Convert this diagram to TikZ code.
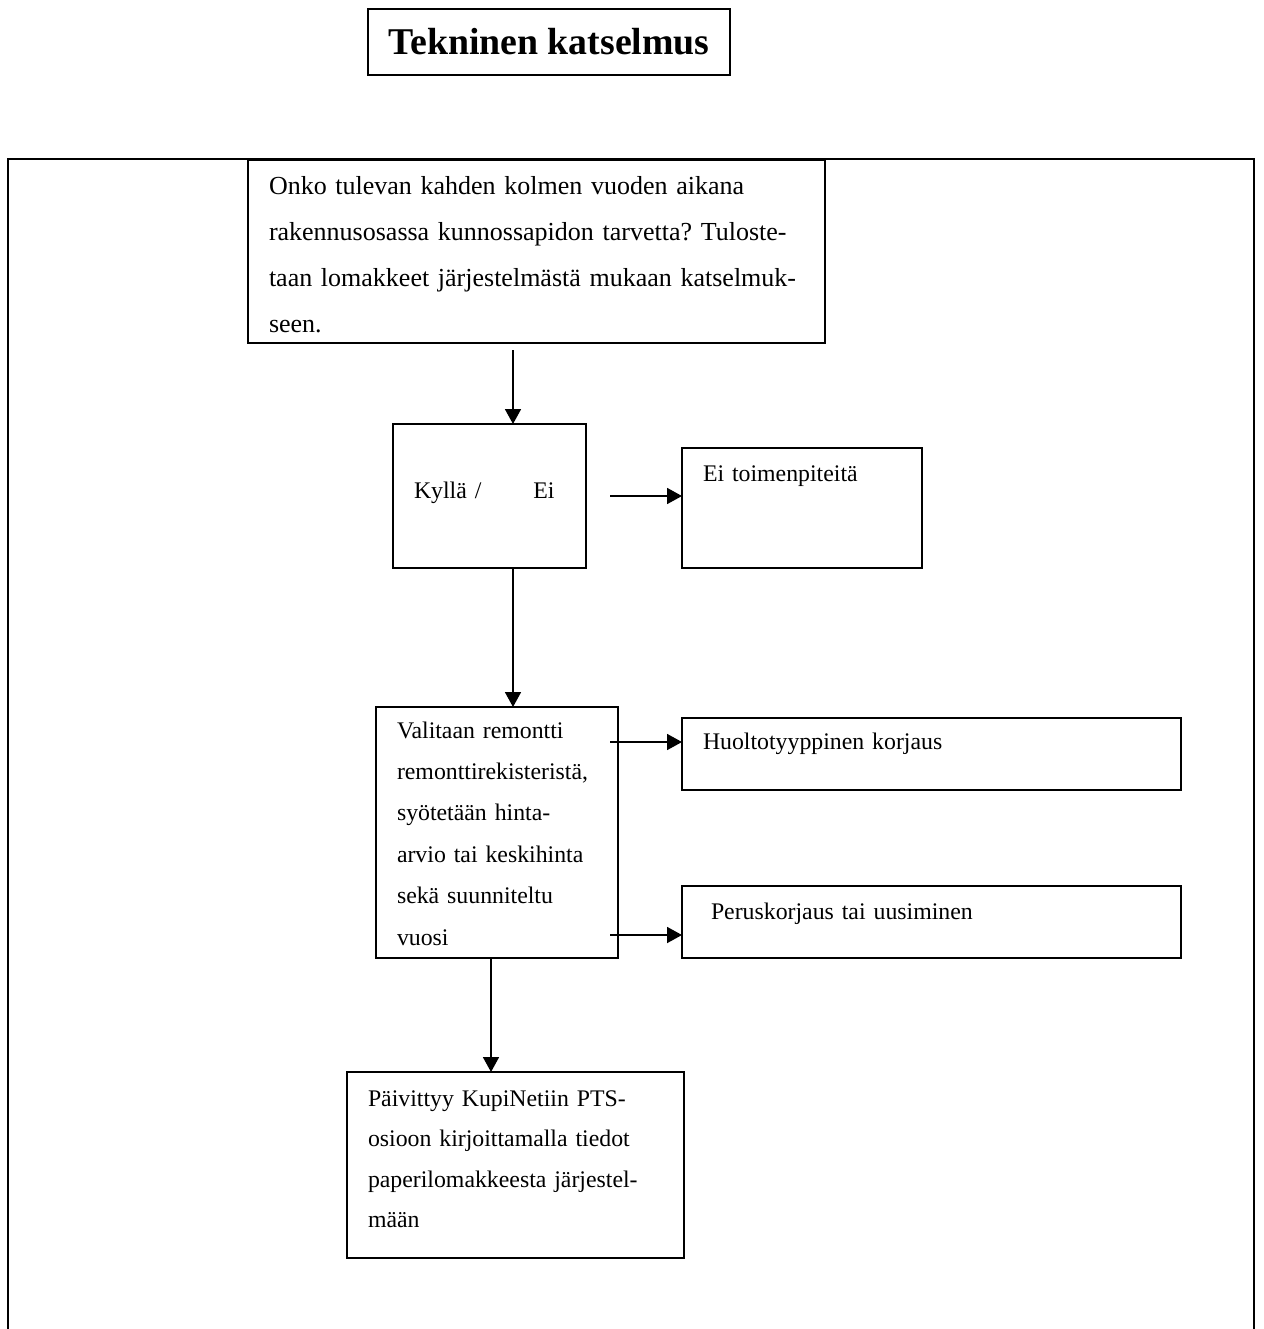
\documentclass[tikz,border=0pt]{standalone}
\usepackage{fontspec}
\setmainfont{Liberation Serif}
\usepackage{tikz}
\usetikzlibrary{arrows.meta, calc, positioning}
\frenchspacing

\begin{document}
\begin{tikzpicture}[
x=0.5pt, y=-0.5pt,
texts/.style = {text=black},
frameline/.style = {draw=black, line width=0.9pt},
stepbox/.style = {texts, frameline, anchor=north west, align=left, outer sep=0pt, inner ysep=0pt, inner xsep=10.5pt, font=\fontsize{11.9}{23}\selectfont},
titlebox/.style = {texts, frameline, outer sep=0pt, minimum width=181pt, minimum height=33pt, font=\fontsize{18.9}{22}\selectfont\bfseries},
flow/.style = {line width=0.9pt, -{Triangle[length=7.5pt, width=8pt]}}
]
\useasboundingbox (0,0) rectangle (1264,1329);

\node[titlebox] (title) at (549,42) {Tekninen katselmus};
\draw[frameline] (8,1329) |- (1254,159) -- (1254,1329);

\node[stepbox, text width=267.5pt, text height=17pt, text depth=74.5pt, font=\fontsize{13}{23}\selectfont] (ask) at (248,160)
	{Onko tulevan kahden kolmen vuoden aikana\\
	rakennusosassa kunnossapidon tarvetta? Tuloste-\\
	taan lomakkeet järjestelmästä mukaan katselmuk-\\
	seen.};
\node[stepbox, text width=75.5pt, text height=37pt, text depth=35pt] (choice) at (393,424)
	{Kyllä /\hspace{26pt}Ei};
\node[stepbox, text width=99pt, text height=16.5pt, text depth=43.5pt] (none) at (682,448)
	{Ei toimenpiteitä};
\node[stepbox, text width=100pt, text height=15.5pt, text depth=110pt, font=\fontsize{11.9}{20.7}\selectfont] (select) at (376,707)
	{Valitaan remontti\\
	remonttirekisteristä,\\
	syötetään hinta-\\
	arvio tai keskihinta\\
	sekä suunniteltu\\
	vuosi};
\node[stepbox, text width=228.5pt, text height=15.5pt, text depth=20.5pt] (huolto) at (682,718)
	{Huoltotyyppinen korjaus};
\node[stepbox, inner xsep=14.5pt, text width=220.5pt, text height=16.5pt, text depth=19.5pt] (perus) at (682,886)
	{Peruskorjaus tai uusiminen};
\node[stepbox, text width=147.5pt, text height=17pt, text depth=76pt, font=\fontsize{11.9}{20.25}\selectfont] (update) at (347,1072)
	{Päivittyy KupiNetiin PTS-\\
	osioon kirjoittamalla tiedot\\
	paperilomakkeesta järjestel-\\
	mään};

\coordinate (spine) at ([xshift=11.75pt]choice.north);
\draw[flow] ([yshift=-3.5pt]spine |- ask.south) -- (spine);
\draw[flow] ([xshift=12pt]choice.east) -- (none.west |- choice.east);
\draw[flow] (spine |- choice.south) -- (spine |- select.north);
\draw[flow] ($(select.east |- huolto.west)+(-4pt,6pt)$) -- ([yshift=6pt]huolto.west);
\draw[flow] ($(select.east |- perus.west)+(-4pt,-6.5pt)$) -- ([yshift=-6.5pt]perus.west);
\draw[flow] ([xshift=-3pt]select.south) -- ([xshift=-3pt]select.south |- update.north);
\end{tikzpicture}
\end{document}
